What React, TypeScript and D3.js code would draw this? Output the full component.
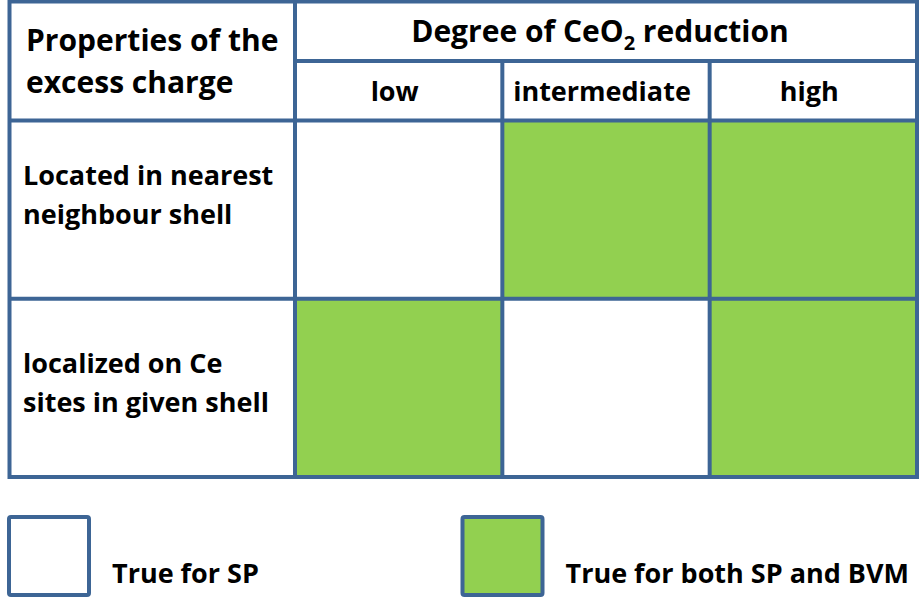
import React from "react";
import * as d3 from "d3";

// ---- data ----
const cornerLabel = ["Properties of the", "excess charge"];
const headerParts = ["Degree of CeO", "2", " reduction"];
const reductionLevels = ["low", "intermediate", "high"];
const properties = ["nearest-shell", "localized-ce"];
const propertyLabels = [
  ["Located in nearest", "neighbour shell"],
  ["localized on Ce", "sites in given shell"],
];
// 1 = true for both SP and BVM (green), 0 = true for SP only (white)
const trueForBoth = [
  [0, 1, 1],
  [1, 0, 1],
];
const legendLabels = ["True for SP", "True for both SP and BVM"];
const legendValues = [0, 1];

// ---- layout ----
const W = 919;
const H = 598;
const LINE = "#3D6595";
const GREEN = "#92D050";
const FONT = "'Open Sans', 'Noto Sans', sans-serif";
const left = 9.5;
const top = 1.5;
const right = 917;
const bottom = 477;
const firstColX = 295;
const subHeadY = 61;
const headBottom = 120.5;
const rowLabelDy = [-25, -15];

export default function App() {
  const x = d3.scaleBand<string>().domain(reductionLevels).range([firstColX, right]);
  const y = d3.scaleBand<string>().domain(properties).range([headBottom, bottom]);
  const fill = d3.scaleOrdinal<number, string>().domain(legendValues).range(["#FFFFFF", GREEN]);
  const legendX = d3.scalePoint<number>().domain(legendValues).range([9, 462.5]);

  const verticals = [firstColX, ...reductionLevels.slice(1).map((c) => x(c) as number)];
  return (
    <svg
      width={W}
      height={H}
      viewBox={`0 0 ${W} ${H}`}
      style={{ position: "absolute", left: 0, top: 0, background: "#fff" }}
      fontFamily={FONT}
      fontWeight={700}
    >
      {/* cells */}
      {properties.map((p, i) =>
        reductionLevels.map((c, j) => (
          <rect
            key={`${p}-${c}`}
            x={x(c)}
            y={y(p)}
            width={x.bandwidth()}
            height={y.bandwidth()}
            fill={fill(trueForBoth[i][j])}
            stroke="#6f97b8"
            strokeWidth={1}
          />
        ))
      )}
      {/* grid lines */}
      <g stroke={LINE} strokeWidth={4} fill="none">
        <rect x={left} y={top} width={right - left} height={bottom - top} />
        <line x1={firstColX} x2={firstColX} y1={top} y2={bottom} />
        {verticals.slice(1).map((vx, k) => (
          <line key={k} x1={vx} x2={vx} y1={subHeadY} y2={bottom} />
        ))}
        <line x1={firstColX} x2={right} y1={subHeadY} y2={subHeadY} />
        <line x1={left} x2={right} y1={headBottom} y2={headBottom} />
        {properties.slice(1).map((p) => (
          <line key={p} x1={left} x2={right} y1={y(p)} y2={y(p)} />
        ))}
      </g>
      {/* corner label */}
      <g fontSize={30} fill="#000">
        {cornerLabel.map((t, k) => (
          <text key={k} x={26} y={51 + k * 42}>
            {t}
          </text>
        ))}
      </g>
      {/* header */}
      <text x={600} y={42} fontSize={30} textAnchor="middle" fill="#000">
        <tspan>{headerParts[0]}</tspan>
        <tspan dy={8} fontSize={20}>
          {headerParts[1]}
        </tspan>
        <tspan dy={-8}>{headerParts[2]}</tspan>
      </text>
      {reductionLevels.map((c) => (
        <text
          key={c}
          x={(x(c) as number) + x.bandwidth() / 2 - 4}
          y={101}
          fontSize={27}
          textAnchor="middle"
          fill="#000"
        >
          {c}
        </text>
      ))}
      {/* row labels */}
      {properties.map((p, i) =>
        propertyLabels[i].map((t, k) => (
          <text
            key={`${p}-${k}`}
            x={23}
            y={(y(p) as number) + y.bandwidth() / 2 + rowLabelDy[i] + k * 39}
            fontSize={27}
            fill="#000"
          >
            {t}
          </text>
        ))
      )}
      {/* legend */}
      {legendValues.map((v, k) => (
        <g key={v}>
          <rect
            x={legendX(v)}
            y={517}
            width={80}
            height={78}
            rx={2}
            fill={fill(v)}
            stroke={LINE}
            strokeWidth={4}
          />
          <text x={(legendX(v) as number) + 103} y={583} fontSize={27} fill="#000">
            {legendLabels[k]}
          </text>
        </g>
      ))}
    </svg>
  );
}
